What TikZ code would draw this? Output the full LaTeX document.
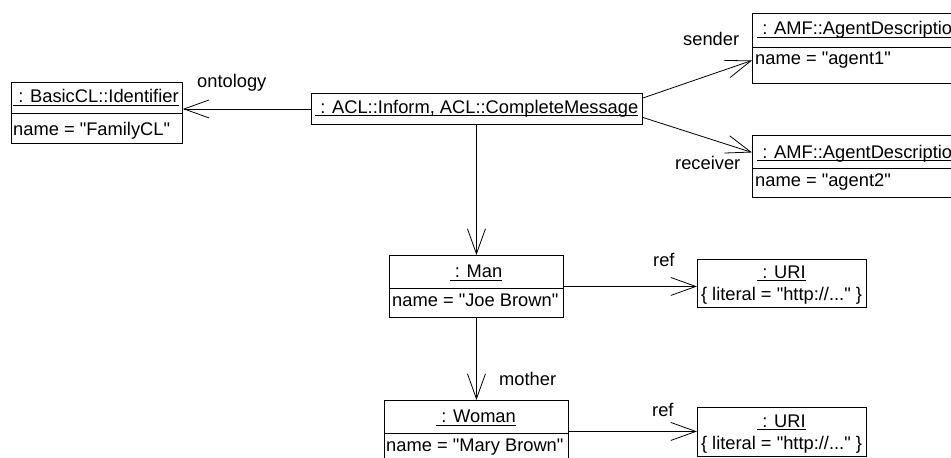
\documentclass[tikz,border=0pt]{standalone}
\usepackage{fontspec}
\setmainfont{Liberation Sans}[Ligatures=TeXOff]
\usetikzlibrary{arrows.meta}
% object name: text with a rule just below its baseline
\newcommand\objname[1]{\setbox0\hbox{#1}\rlap{\rule[-3pt]{\wd0}{0.9pt}}\box0}
\begin{document}
\begin{tikzpicture}[x=1pt,y=-1pt,
  objbox/.style={draw, line width=0.9pt, inner sep=0pt, anchor=north west},
  sepline/.style={line width=0.9pt},
  txt/.style={inner sep=0pt, font=\fontsize{18.3}{22}\selectfont},
  assoc/.style={line width=0.8pt, -{Straight Barb[length=25pt,width=18pt,line width=0.8pt]}},
]
\useasboundingbox (0,0) rectangle (951,458);
\clip (0,0) rectangle (951,458);

% object boxes
\node[objbox, minimum width=171pt, minimum height=60.5pt] (ident) at (11,82) {};
\node[objbox, minimum width=331pt, minimum height=31pt] (msg) at (311,93) {};
\node[objbox, minimum width=210pt, minimum height=70pt] (agent1) at (752,13) {};
\node[objbox, minimum width=210pt, minimum height=62pt] (agent2) at (752,135) {};
\node[objbox, minimum width=174pt, minimum height=62pt] (man) at (389,255) {};
\node[objbox, minimum width=184pt, minimum height=62pt] (woman) at (384,400) {};
\node[objbox, minimum width=169pt, minimum height=48pt] (uri1) at (697,259) {};
\node[objbox, minimum width=169pt, minimum height=49pt] (uri2) at (697,407) {};

% compartment separators
\draw[sepline] ([yshift=-31pt]ident.north west) -- ([yshift=-31pt]ident.north east);
\draw[sepline] ([yshift=-34pt]agent1.north west) -- ([yshift=-34pt]agent1.north east);
\draw[sepline] ([yshift=-33.5pt]agent2.north west) -- ([yshift=-33.5pt]agent2.north east);
\draw[sepline] ([yshift=-33pt]man.north west) -- ([yshift=-33pt]man.north east);
\draw[sepline] ([yshift=-33pt]woman.north west) -- ([yshift=-33pt]woman.north east);

% box contents
\node[txt, anchor=base west] (identH) at (13,102.5) {\objname{\ : BasicCL::Identifier}};
\node[txt, anchor=base west] (identA) at (13,135.5) {name = "FamilyCL"};
\node[txt, anchor=base west] (msgH) at (315,113) {\objname{\ : ACL::Inform, ACL::CompleteMessage}};
\node[txt, anchor=base west] (agent1H) at (757,34.5) {\objname{\ : AMF::AgentDescription}};
\node[txt, anchor=base west] (agent1A) at (755,64.5) {name = "agent1"};
\node[txt, anchor=base west] (agent2H) at (757,158) {\objname{\ : AMF::AgentDescription}};
\node[txt, anchor=base west] (agent2A) at (755,186.5) {name = "agent2"};
\node[txt, anchor=base] (manH) at (476,277.5) {\objname{\ : Man}};
\node[txt, anchor=base west] (manA) at (392,306.5) {name = "Joe Brown"};
\node[txt, anchor=base] (womanH) at (476,422.5) {\objname{\ : Woman}};
\node[txt, anchor=base west] (womanA) at (386,451.5) {name = "Mary Brown"};
\node[txt, anchor=base] (uri1H) at (781.5,278) {\objname{\ : URI}};
\node[txt, anchor=base] (uri1A) at (781.5,300) {\{ literal = "http://..." \}};
\node[txt, anchor=base] (uri2H) at (781.5,427) {\objname{\ : URI}};
\node[txt, anchor=base] (uri2A) at (781.5,449.5) {\{ literal = "http://..." \}};

% links
\draw[assoc] (msg.west) -- (msg.west -| ident.east);
\draw[assoc] ([yshift=-5pt]msg.north east) -- ([yshift=-12pt]agent1.west);
\draw[assoc] ([yshift=-8.5pt]msg.east) -- ([yshift=14pt]agent2.west);
\draw[assoc] (msg.south -| man.north) -- (man.north);
\draw[assoc] (man.south) -- (woman.north);
\draw[assoc] (man.east) -- (man.east -| uri1.west);
\draw[assoc] (woman.east) -- (woman.east -| uri2.west);

% role names
\node[txt, anchor=base west] (lOnt) at (197,87) {ontology};
\node[txt, anchor=base west] (lSend) at (683,45) {sender};
\node[txt, anchor=base west] (lRecv) at (675,169) {receiver};
\node[txt, anchor=base west] (lRef1) at (653,266.5) {ref};
\node[txt, anchor=base west] (lMother) at (499,385) {mother};
\node[txt, anchor=base west] (lRef2) at (652,416.5) {ref};
\end{tikzpicture}
\end{document}
